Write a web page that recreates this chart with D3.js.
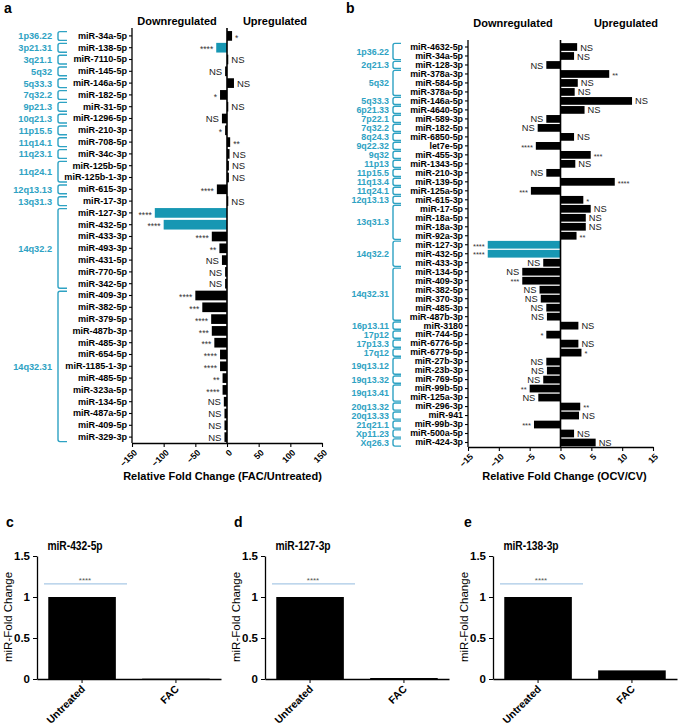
<!DOCTYPE html>
<html><head><meta charset="utf-8">
<script src="https://cdn.jsdelivr.net/npm/d3@7"></script>
<style>
body{margin:0;background:#fff;}
svg{display:block;font-family:"Liberation Sans",Arial,Helvetica,sans-serif;}
</style></head><body>
<svg id="fig" width="685" height="727"></svg>
<script>
// ---------- Panel a data (FAC / Untreated) ----------
const aMirs = ["miR-34a-5p","miR-138-5p","miR-7110-5p","miR-145-5p","miR-146a-5p","miR-182-5p","miR-31-5p","miR-1296-5p","miR-210-3p","miR-708-5p","miR-34c-3p","miR-125b-5p","miR-125b-1-3p","miR-615-3p","miR-17-3p","miR-127-3p","miR-432-5p","miR-433-3p","miR-493-3p","miR-431-5p","miR-770-5p","miR-342-5p","miR-409-3p","miR-382-5p","miR-379-5p","miR-487b-3p","miR-485-3p","miR-654-5p","miR-1185-1-3p","miR-485-5p","miR-323a-5p","miR-134-5p","miR-487a-5p","miR-409-5p","miR-329-3p"];
const aValues = [8,-17,2,-3,11,-11,2,-8,-3,5,4,3,3,-16,2,-114,-100,-24,-12,-8,-3,-3,-50,-39,-25,-24,-20,-11,-11,-7,-7,-5,-4,-4,-4];
const aSig = ["*","****","NS","NS","NS","*","NS","NS","*","**","NS","NS","NS","****","NS","****","****","****","**","NS","NS","NS","****","***","****","***","***","****","****","**","****","NS","NS","NS","NS"];
const aHighlight = ["miR-138-5p","miR-127-3p","miR-432-5p"];
const aBands = ["1p36.22","3p21.31","3q21.1","5q32","5q33.3","7q32.2","9p21.3","10q21.3","11p15.5","11q14.1","11q23.1","11q24.1","12q13.13","13q31.3","14q32.2","14q32.31"];
const aBandSizes = [1,1,1,1,1,1,1,1,1,1,1,2,1,1,7,13];
const aTicks = [-150,-100,-50,0,50,100,150];

// ---------- Panel b data (OCV / CV) ----------
const bMirs = ["miR-4632-5p","miR-34a-5p","miR-128-3p","miR-378a-3p","miR-584-5p","miR-378a-5p","miR-146a-5p","miR-4640-5p","miR-589-3p","miR-182-5p","miR-6850-5p","let7e-5p","miR-455-3p","miR-1343-5p","miR-210-3p","miR-139-5p","miR-125a-5p","miR-615-3p","miR-17-5p","miR-18a-5p","miR-18a-3p","miR-92a-3p","miR-127-3p","miR-432-5p","miR-433-3p","miR-134-5p","miR-409-3p","miR-382-5p","miR-370-3p","miR-485-3p","miR-487b-3p","miR-3180","miR-744-5p","miR-6776-5p","miR-6779-5p","miR-27b-3p","miR-23b-3p","miR-769-5p","miR-99b-5p","miR-125a-3p","miR-296-3p","miR-941","miR-99b-3p","miR-500a-5p","miR-424-3p"];
const bValues = [2.7,2.2,-2.3,7.9,2.8,2.3,11.6,3.9,-2.3,-3.7,2.2,-4.0,4.9,2.4,-2.3,8.8,-4.8,3.7,4.9,4.1,4.1,2.6,-11.8,-11.8,-2.8,-6.2,-6.2,-3.4,-3.2,-2.3,-2.2,2.9,-2.3,2.9,3.4,-2.3,-2.2,-2.8,-5.0,-3.6,3.2,3.0,-4.3,2.2,5.7];
const bSig = ["NS","NS","NS","**","NS","NS","NS","NS","NS","NS","NS","****","***","NS","NS","****","***","*","NS","NS","NS","**","****","****","NS","NS","***","NS","NS","NS","NS","NS","*","NS","*","NS","NS","NS","**","NS","**","NS","***","NS","NS"];
const bHighlight = ["miR-127-3p","miR-432-5p"];
const bBands = ["1p36.22","2q21.3","5q32","5q33.3","6p21.33","7p22.1","7q32.2","8q24.3","9q22.32","9q32","11p13","11p15.5","11q13.4","11q24.1","12q13.13","13q31.3","14q32.2","14q32.31","16p13.11","17p12","17p13.3","17q12","19q13.12","19q13.32","19q13.41","20q13.32","20q13.33","21q21.1","Xp11.23","Xq26.3"];
const bBandSizes = [2,1,3,1,1,1,1,1,1,1,1,1,1,1,1,4,3,6,1,1,1,1,2,1,2,1,1,1,1,1];
const bTicks = [-15,-10,-5,0,5,10,15];

// ---------- Panels c, d, e data ----------
const fcGroups = ["Untreated","FAC"];
const fcTitles = ["miR-432-5p","miR-127-3p","miR-138-3p"];
const cValues = [1.0, 0.004];
const dValues = [1.0, 0.012];
const eValues = [1.0, 0.105];
const fcTicks = [0, 0.5, 1, 1.5];
const fcSig = "****";
const fcSigLevel = 1.16;

const TEAL_BAR = "#1797b3";
const TEAL_TXT = "#2ea2c3";
const svg = d3.select("#fig");

function hPanel(o){
  const g = svg.append("g");
  const y = d3.scaleBand().domain(o.mirs).range(o.yRange).paddingInner(o.padIn).paddingOuter(o.padOut);
  const x = d3.scaleLinear().domain(o.domain).range(o.xRange);
  const x0 = x(0);
  // bars
  g.append("g").selectAll("rect").data(o.mirs).join("rect")
    .attr("x",(d,i)=>Math.min(x0, x(o.values[i])))
    .attr("width",(d,i)=>Math.abs(x(o.values[i])-x0))
    .attr("y",d=>y(d)).attr("height",y.bandwidth())
    .attr("fill",d=>o.highlight.includes(d)?TEAL_BAR:"#000");
  // zero line
  g.append("line").attr("x1",x0).attr("x2",x0).attr("y1",o.axisTop).attr("y2",o.yRange[1])
    .attr("stroke","#000").attr("stroke-width",1.6);
  // left axis with miRNA labels
  const ya = g.append("g").attr("transform",`translate(${o.xRange[0]},0)`)
    .call(d3.axisLeft(y).tickSize(3).tickSizeOuter(0).tickPadding(2));
  ya.attr("font-family",null).attr("font-size",null);
  ya.select(".domain").attr("stroke-width",1.3).attr("d",`M0,${o.axisTop}V${o.yRange[1]}`);
  ya.selectAll(".tick line").attr("stroke-width",1.1);
  ya.selectAll("text").attr("font-size",o.labelSize).attr("font-weight","bold").attr("fill","#000");
  // bottom axis
  const xa = g.append("g").attr("transform",`translate(0,${o.yRange[1]})`)
    .call(d3.axisBottom(x).tickValues(o.ticks).tickSize(4).tickSizeOuter(0));
  xa.attr("font-family",null).attr("font-size",null);
  xa.select(".domain").attr("stroke-width",1.3);
  xa.selectAll(".tick line").attr("stroke-width",1.1);
  xa.selectAll("text").attr("x",0).attr("y",0).attr("dy","0.35em")
    .attr("transform","translate(3,8) rotate(-45)").attr("text-anchor","end")
    .attr("font-size",8.8).attr("font-weight","bold").attr("fill","#000");
  // significance labels
  g.append("g").selectAll("text").data(o.mirs).join("text")
    .attr("x",(d,i)=>o.values[i]<0 ? x(o.values[i])-3 : x(o.values[i])+3)
    .attr("y",d=>y(d)+y.bandwidth()/2)
    .attr("dy",(d,i)=>o.sig[i]==="NS"?"0.38em":o.starDy)
    .attr("text-anchor",(d,i)=>o.values[i]<0?"end":"start")
    .attr("font-size",(d,i)=>o.sig[i]==="NS"?o.nsSize:o.starSize)
    .attr("fill",(d,i)=>o.sig[i]==="NS"?"#222":"#333")
    .text((d,i)=>o.sig[i]);
  // chromosome bands
  let start = 0;
  const bg = g.append("g");
  o.bands.forEach((b,k)=>{
    const n = o.bandSizes[k];
    const c1 = y(o.mirs[start]) + y.bandwidth()/2;
    const c2 = y(o.mirs[start+n-1]) + y.bandwidth()/2;
    const t = c1 - o.brExt[0], bt = c2 + o.brExt[1];
    const vx = o.brX[0], hx = o.brX[1];
    bg.append("path")
      .attr("d",`M${hx},${t}H${vx+2}Q${vx},${t} ${vx},${t+2}V${bt-2}Q${vx},${bt} ${vx+2},${bt}H${hx}`)
      .attr("fill","none").attr("stroke",TEAL_TXT).attr("stroke-width",1.4);
    bg.append("text").attr("x",o.bandLabelX).attr("y",(t+bt)/2).attr("dy","0.36em")
      .attr("text-anchor","end").attr("font-size",o.bandSize).attr("font-weight","bold")
      .attr("fill",TEAL_TXT).text(b);
    start += n;
  });
  // headers
  g.append("text").attr("x",o.headX[0]).attr("y",o.headY).attr("text-anchor","middle")
    .attr("font-size",11).attr("font-weight","bold").text("Downregulated");
  g.append("text").attr("x",o.headX[1]).attr("y",o.headY).attr("text-anchor","middle")
    .attr("font-size",11).attr("font-weight","bold").text("Upregulated");
  // axis title
  g.append("text").attr("x",o.titleX).attr("y",479.5).attr("text-anchor","middle")
    .attr("font-size",11).attr("font-weight","bold").text(o.title);
  // panel letter
  g.append("text").attr("x",o.letterX).attr("y",13).attr("font-size",14).attr("font-weight","bold").text(o.letter);
}

hPanel({mirs:aMirs, values:aValues, sig:aSig, highlight:aHighlight, bands:aBands, bandSizes:aBandSizes,
  ticks:aTicks, domain:[-150,150], xRange:[132,322], yRange:[30,443], padIn:0.18, padOut:0.09,
  axisTop:28, labelSize:9.1, nsSize:9.5, starSize:8.5, starDy:"0.55em", bandSize:9.2, brExt:[4.3,4.5], brX:[58,67], bandLabelX:52,
  headX:[177,275], headY:24.5, titleX:222.5, title:"Relative Fold Change (FAC/Untreated)", letter:"a", letterX:4});

hPanel({mirs:bMirs, values:bValues, sig:bSig, highlight:bHighlight, bands:bBands, bandSizes:bBandSizes,
  ticks:bTicks, domain:[-15,15], xRange:[468,653], yRange:[42.5,447], padIn:0.14, padOut:0.07,
  axisTop:40, labelSize:8.9, nsSize:9.3, starSize:7.5, starDy:"0.5em", bandSize:8.9, brExt:[3.6,3.6], brX:[393,401], bandLabelX:389,
  headX:[513,626], headY:26.5, titleX:564.5, title:"Relative Fold Change (OCV/CV)", letter:"b", letterX:346});

function vPanel(title, values, axisX, letter, letterX, yLabelX){
  const g = svg.append("g");
  const y = d3.scaleLinear().domain([0,1.5]).range([679,556]);
  const x = d3.scaleBand().domain(fcGroups).range([axisX, axisX+184]).paddingInner(0.28).paddingOuter(0.12);
  g.append("g").selectAll("rect").data(fcGroups).join("rect")
    .attr("x",d=>x(d)).attr("width",x.bandwidth())
    .attr("y",(d,i)=>y(values[i])).attr("height",(d,i)=>y(0)-y(values[i]))
    .attr("fill","#000");
  const ya = g.append("g").attr("transform",`translate(${axisX},0)`)
    .call(d3.axisLeft(y).tickValues(fcTicks).tickFormat(d=>String(d)).tickSize(4).tickSizeOuter(0).tickPadding(3));
  ya.attr("font-family",null).attr("font-size",null);
  ya.select(".domain").attr("stroke-width",1.3);
  ya.selectAll("text").attr("font-size",11.5).attr("font-weight","bold").attr("fill","#000");
  const xa = g.append("g").attr("transform",`translate(0,${y(0)})`)
    .call(d3.axisBottom(x).tickSize(4).tickSizeOuter(0));
  xa.attr("font-family",null).attr("font-size",null);
  xa.select(".domain").attr("stroke-width",1.3);
  xa.selectAll("text").attr("x",0).attr("y",0).attr("dy","0.35em")
    .attr("transform","translate(1,8) rotate(-45)").attr("text-anchor","end")
    .attr("font-size",10.5).attr("font-weight","bold").attr("fill","#000");
  // significance bar
  g.append("line").attr("x1",axisX+7).attr("x2",axisX+90).attr("y1",y(fcSigLevel)).attr("y2",y(fcSigLevel))
    .attr("stroke","#a9c9e6").attr("stroke-width",1.1);
  g.append("text").attr("x",axisX+48).attr("y",y(fcSigLevel)-1).attr("text-anchor","middle")
    .attr("font-size",8).attr("fill","#555").text(fcSig);
  // title
  g.append("text").attr("transform",`translate(${axisX+38},550) scale(0.76,1)`).attr("text-anchor","middle")
    .attr("font-size",13.5).attr("font-weight","bold").text(title);
  // y label
  g.append("text").attr("transform",`translate(${yLabelX},617) rotate(-90)`).attr("text-anchor","middle")
    .attr("font-size",11.5).text("miR-Fold Change");
  g.append("text").attr("x",letterX).attr("y",527).attr("font-size",14).attr("font-weight","bold").text(letter);
}
vPanel(fcTitles[0], cValues, 37, "c", 6, 12);
vPanel(fcTitles[1], dValues, 265, "d", 234, 240);
vPanel(fcTitles[2], eValues, 493, "e", 464, 468);
</script>
</body></html>
